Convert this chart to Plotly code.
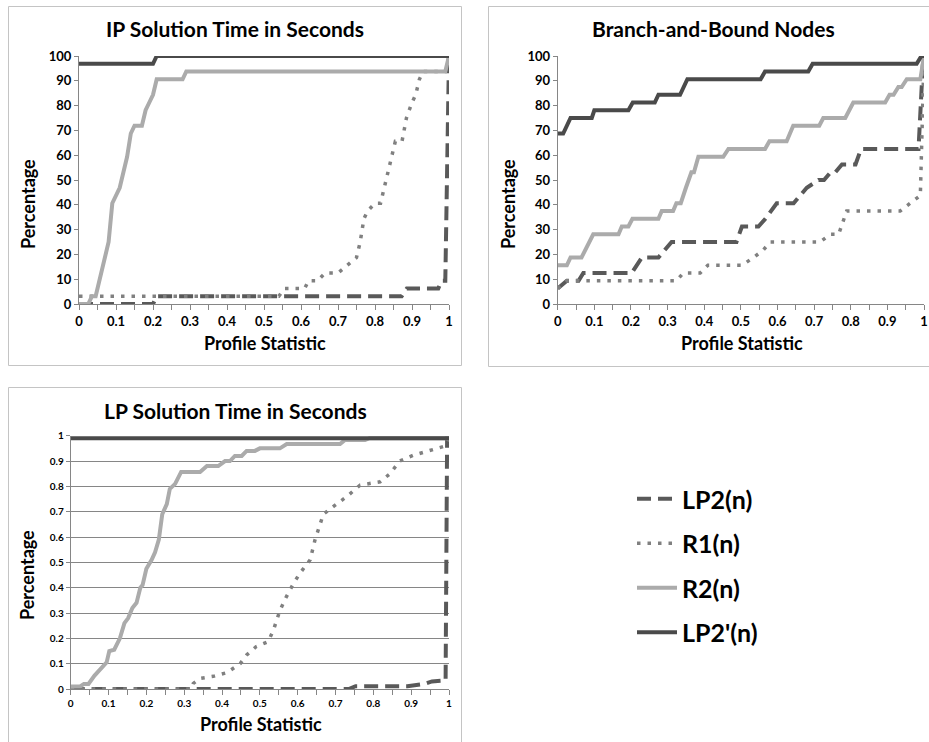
import plotly.graph_objects as go

OFF = 0
W, H = 929, 742
FONT = "Lato"

# ---------------- Data ----------------
# IP Solution Time in Seconds (percent)
ip_lp2_x = [0, 0.2, 0.21, 0.872, 0.886, 0.971, 0.98, 0.99, 1.0]
ip_lp2_y = [0, 0, 3.125, 3.125, 6.25, 6.25, 9.375, 9.375, 100]
ip_r1_x = [0, 0.54, 0.555, 0.61, 0.62, 0.645, 0.665, 0.70, 0.725, 0.75, 0.76, 0.77, 0.78, 0.80,
           0.815, 0.825, 0.835, 0.845, 0.855, 0.873, 0.885, 0.90, 0.91, 0.92, 0.93, 0.99, 1.0]
ip_r1_y = [3.125, 3.125, 6.25, 6.25, 9.375, 9.375, 12.5, 12.5, 15.625, 18.75, 25, 34.375, 37.5, 40.625,
           40.625, 46.875, 53.125, 59.375, 65.625, 65.625, 75, 81.25, 84.375, 90.625, 93.75, 93.75, 100]
ip_r2_x = [0, 0.025, 0.035, 0.045, 0.05, 0.065, 0.075, 0.08, 0.09, 0.10, 0.11, 0.12, 0.13, 0.14,
           0.15, 0.17, 0.18, 0.19, 0.20, 0.21, 0.28, 0.29, 0.99, 1.0]
ip_r2_y = [0, 0, 3.125, 3.125, 6.25, 15.625, 21.875, 25, 40.625, 43.75, 46.875, 53.125, 59.375, 68.75,
           71.875, 71.875, 78.125, 81.25, 84.375, 90.625, 90.625, 93.75, 93.75, 100]
ip_lp2p_x = [0, 0.2, 0.21, 1.0]
ip_lp2p_y = [96.875, 96.875, 100, 100]

# Branch-and-Bound Nodes (percent)
bb_lp2_x = [0, 0.025, 0.057, 0.07, 0.202, 0.23, 0.275, 0.311, 0.488, 0.503, 0.548, 0.567, 0.598,
            0.644, 0.68, 0.712, 0.727, 0.745, 0.758, 0.776, 0.813, 0.828, 0.985, 0.998]
bb_lp2_y = [6.25, 9.375, 9.375, 12.5, 12.5, 18.75, 18.75, 25, 25, 31.25, 31.25, 34.375, 40.625,
            40.625, 46.875, 50, 50, 53.125, 53.125, 56.25, 56.25, 62.5, 62.5, 100]
bb_r1_x = [0, 0.025, 0.324, 0.343, 0.389, 0.41, 0.503, 0.535, 0.562, 0.58, 0.716, 0.745, 0.767,
           0.789, 0.935, 0.962, 0.99, 1.0]
bb_r1_y = [6.25, 9.375, 9.375, 12.5, 12.5, 15.625, 15.625, 18.75, 21.875, 25, 25, 28.125, 28.125,
           37.5, 37.5, 40.625, 43.75, 100]
bb_r2_x = [0, 0.025, 0.035, 0.065, 0.097, 0.166, 0.175, 0.193, 0.204, 0.275, 0.284, 0.315, 0.324,
           0.336, 0.35, 0.365, 0.372, 0.384, 0.452, 0.466, 0.566, 0.578, 0.625, 0.643, 0.714, 0.725,
           0.785, 0.807, 0.894, 0.906, 0.917, 0.93, 0.939, 0.953, 0.99, 1.0]
bb_r2_y = [15.625, 15.625, 18.75, 18.75, 28.125, 28.125, 31.25, 31.25, 34.375, 34.375, 37.5, 37.5, 40.625,
           40.625, 46.875, 53.125, 53.125, 59.375, 59.375, 62.5, 62.5, 65.625, 65.625, 71.875, 71.875, 75,
           75, 81.25, 81.25, 84.375, 84.375, 87.5, 87.5, 90.625, 90.625, 100]
bb_lp2p_x = [0, 0.015, 0.035, 0.093, 0.10, 0.193, 0.205, 0.265, 0.275, 0.334, 0.354, 0.554, 0.566,
             0.684, 0.696, 0.98, 0.993, 1.0]
bb_lp2p_y = [68.75, 68.75, 75, 75, 78.125, 78.125, 81.25, 81.25, 84.375, 84.375, 90.625, 90.625, 93.75,
             93.75, 96.875, 96.875, 100, 100]

# LP Solution Time in Seconds (fraction)
lp_lp2_x = [0, 0.735, 0.753, 0.89, 0.935, 0.955, 0.985, 0.991, 0.995, 1.0]
lp_lp2_y = [0, 0, 0.011, 0.011, 0.02, 0.03, 0.033, 0.033, 0.99, 0.99]
lp_r1_x = [0, 0.32, 0.324, 0.342, 0.377, 0.412, 0.448, 0.465, 0.49, 0.522, 0.536, 0.553, 0.57, 0.589,
           0.606, 0.633, 0.646, 0.654, 0.668, 0.694, 0.73, 0.765, 0.782, 0.818, 0.844, 0.87, 0.906,
           0.941, 0.985, 1.0]
lp_r1_y = [0, 0, 0.022, 0.042, 0.05, 0.064, 0.1, 0.134, 0.167, 0.187, 0.233, 0.31, 0.364, 0.417,
           0.457, 0.51, 0.59, 0.63, 0.69, 0.72, 0.76, 0.805, 0.81, 0.818, 0.85, 0.9, 0.923,
           0.937, 0.957, 0.99]
lp_r2_x = [0, 0.025, 0.035, 0.047, 0.063, 0.073, 0.089, 0.095, 0.102, 0.115, 0.13, 0.142, 0.152, 0.163,
           0.174, 0.184, 0.19, 0.20, 0.214, 0.223, 0.233, 0.242, 0.254, 0.262, 0.276, 0.292, 0.342,
           0.36, 0.39, 0.408, 0.421, 0.434, 0.452, 0.465, 0.487, 0.5, 0.553, 0.571, 0.712, 0.725,
           0.778, 0.79, 1.0]
lp_r2_y = [0.01, 0.01, 0.02, 0.02, 0.053, 0.07, 0.1, 0.105, 0.15, 0.155, 0.2, 0.26, 0.28, 0.32,
           0.34, 0.40, 0.41, 0.475, 0.51, 0.54, 0.59, 0.69, 0.73, 0.79, 0.81, 0.857, 0.857,
           0.88, 0.88, 0.90, 0.90, 0.92, 0.92, 0.94, 0.94, 0.95, 0.95, 0.967, 0.967, 0.983,
           0.983, 0.99, 0.99]
lp_lp2p_x = [0, 1.0]
lp_lp2p_y = [0.99, 0.99]

series_names = ["LP2(n)", "R1(n)", "R2(n)", "LP2'(n)"]
x_tick_vals = [round(i * 0.05, 2) for i in range(21)]
x_tick_text = [("0" if i == 0 else "1" if i == 20 else f"0.{i // 2}") if i % 2 == 0 else "" for i in range(21)]
pct_ticks = list(range(0, 101, 10))
frac_ticks = [i / 10 for i in range(11)]
frac_text = ["0", "0.1", "0.2", "0.3", "0.4", "0.5", "0.6", "0.7", "0.8", "0.9", "1"]

styles = [
    dict(color="#595959", width=4, dash="14px,7px"),
    dict(color="#808080", width=3.5, dash="3.5px,7px"),
    dict(color="#ababab", width=4, dash="solid"),
    dict(color="#4a4a4a", width=4, dash="solid"),
]

charts = [
    ("x", "y", [(ip_lp2_x, ip_lp2_y), (ip_r1_x, ip_r1_y), (ip_r2_x, ip_r2_y), (ip_lp2p_x, ip_lp2p_y)]),
    ("x2", "y2", [(bb_lp2_x, bb_lp2_y), (bb_r1_x, bb_r1_y), (bb_r2_x, bb_r2_y), (bb_lp2p_x, bb_lp2p_y)]),
    ("x3", "y3", [(lp_lp2_x, lp_lp2_y), (lp_r1_x, lp_r1_y), (lp_r2_x, lp_r2_y), (lp_lp2p_x, lp_lp2p_y)]),
]

fig = go.Figure()
for ci, (xa, ya, data) in enumerate(charts):
    for si, (xs, ys) in enumerate(data):
        fig.add_trace(go.Scatter(
            x=xs, y=ys, xaxis=xa, yaxis=ya, mode="lines",
            name=series_names[si], legendgroup=series_names[si],
            showlegend=(ci == 0), line=styles[si], hoverinfo="skip"))


def px_x(p):
    return (p - OFF) / W


def px_y(p):
    return 1 - (p - OFF) / H


AX_COLOR = "#868686"
bold = dict(family=FONT, size=13, color="black", weight="bold")
small_bold = dict(family=FONT, size=10, color="black", weight="bold")

common_x = dict(range=[0, 1], tickvals=x_tick_vals, ticktext=x_tick_text, showline=True,
                linecolor=AX_COLOR, linewidth=1, ticks="outside", ticklen=5, tickcolor=AX_COLOR,
                showgrid=False, zeroline=False, fixedrange=True, automargin=False,
                ticklabeloverflow="allow")
common_y = dict(showline=True, linecolor=AX_COLOR, linewidth=1, ticks="outside", ticklen=4,
                tickcolor=AX_COLOR, zeroline=False, fixedrange=True, automargin=False)

fig.update_layout(
    width=W, height=H, margin=dict(l=0, r=0, t=0, b=0, pad=0, autoexpand=False),
    paper_bgcolor="white", plot_bgcolor="white",
    xaxis=dict(domain=[px_x(79), px_x(449)], anchor="y", tickfont=bold, **common_x),
    yaxis=dict(domain=[px_y(304), px_y(56)], anchor="x", range=[0, 100], tickvals=pct_ticks,
               showgrid=False, tickfont=bold, **common_y),
    xaxis2=dict(domain=[px_x(557.7), px_x(924)], anchor="y2", tickfont=bold, **common_x),
    yaxis2=dict(domain=[px_y(304), px_y(56)], anchor="x2", range=[0, 100], tickvals=pct_ticks,
                showgrid=False, tickfont=bold, **common_y),
    xaxis3=dict(domain=[px_x(70.7), px_x(449)], anchor="y3", tickfont=small_bold, **common_x),
    yaxis3=dict(domain=[px_y(689), px_y(435.7)], anchor="x3", range=[0, 1], tickvals=frac_ticks,
                ticktext=frac_text, showgrid=True, gridcolor=AX_COLOR, gridwidth=1,
                tickfont=small_bold, **common_y),
    legend=dict(x=px_x(632), y=px_y(476), xanchor="left", yanchor="top",
                font=dict(family=FONT, size=25, color="black", weight="bold"),
                tracegroupgap=9, bgcolor="rgba(0,0,0,0)", itemwidth=40),
    showlegend=True,
    hovermode=False,
)

# chart frames
box = dict(type="rect", xref="paper", yref="paper", line=dict(color="#c4c4c4", width=1), fillcolor="rgba(0,0,0,0)", layer="below")
fig.add_shape(x0=px_x(8.5), x1=px_x(461.5), y0=px_y(365.5), y1=px_y(6.5), **box)
fig.add_shape(x0=px_x(488.5), x1=px_x(935), y0=px_y(366.5), y1=px_y(6.5), **box)
fig.add_shape(x0=px_x(8.5), x1=px_x(461.5), y0=px_y(750), y1=px_y(387.5), **box)

title_font = dict(family=FONT, size=21, color="black", weight="bold")
label_font = dict(family=FONT, size=18, color="black", weight="bold")


def ann(text, x, y, font, angle=0):
    fig.add_annotation(text=text, x=px_x(x), y=px_y(y), xref="paper", yref="paper",
                       showarrow=False, font=font, textangle=angle, xanchor="center", yanchor="middle")


ann("IP Solution Time in Seconds", 235, 29, title_font)
ann("Branch-and-Bound Nodes", 713, 29, title_font)
ann("LP Solution Time in Seconds", 235, 410, title_font)
ann("Percentage", 28, 204, label_font, -90)
ann("Percentage", 508, 204, label_font, -90)
ann("Percentage", 27, 575, label_font, -90)
ann("Profile Statistic", 265, 343, label_font)
ann("Profile Statistic", 742, 343, label_font)
ann("Profile Statistic", 261, 724, label_font)

fig.write_html("out.html", config={"displayModeBar": False},
               post_script="document.body.style.margin='0';document.body.style.overflow='hidden';")
